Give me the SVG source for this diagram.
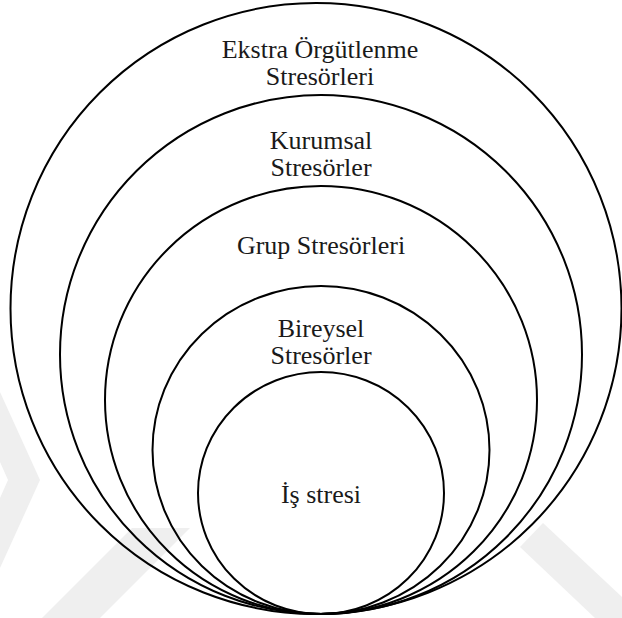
<svg xmlns="http://www.w3.org/2000/svg" width="622" height="618" viewBox="0 0 622 618">
  <style>
    .ring { fill: none; stroke: #000; stroke-width: 2; }
    .label { font-family: 'Liberation Serif', Tinos, 'Times New Roman', 'DejaVu Serif', serif; font-size: 26px; fill: #1a1a1a; text-anchor: middle; }
    .mark { fill: #efefef; }
  </style>

  <rect width="622" height="618" fill="#fff"/>

  <!-- faint background emblem -->
  <g id="emblem">
    <polygon class="mark" points="0,392 40,480 0,568 0,498 8,480 0,462"/>
    <polygon class="mark" points="42,618 100,618 190,528 132,528"/>
    <polygon class="mark" points="520,547 543,523 622,597 622,618 595,618"/>
  </g>

  <!-- nested stressor levels, all touching at the bottom -->
  <g id="extra-orgutsel">
    <ellipse class="ring" cx="316" cy="308.5" rx="305.5" ry="305.5"/>
    <text class="label" x="320" y="58">Ekstra Örgütlenme</text>
    <text class="label" x="320" y="85">Stresörleri</text>
  </g>

  <g id="kurumsal">
    <ellipse class="ring" cx="321" cy="354.5" rx="261" ry="259.5"/>
    <text class="label" x="321" y="149">Kurumsal</text>
    <text class="label" x="321" y="176">Stresörler</text>
  </g>

  <g id="grup">
    <ellipse class="ring" cx="321" cy="400" rx="216" ry="214"/>
    <text class="label" x="321" y="254">Grup Stresörleri</text>
  </g>

  <g id="bireysel">
    <ellipse class="ring" cx="321" cy="450" rx="168.5" ry="164"/>
    <text class="label" x="321" y="337">Bireysel</text>
    <text class="label" x="321" y="364">Stresörler</text>
  </g>

  <g id="is-stresi">
    <ellipse class="ring" cx="321" cy="493" rx="123" ry="121"/>
    <text class="label" x="321" y="503">İş stresi</text>
  </g>

  <g id="connectors"/>
</svg>
